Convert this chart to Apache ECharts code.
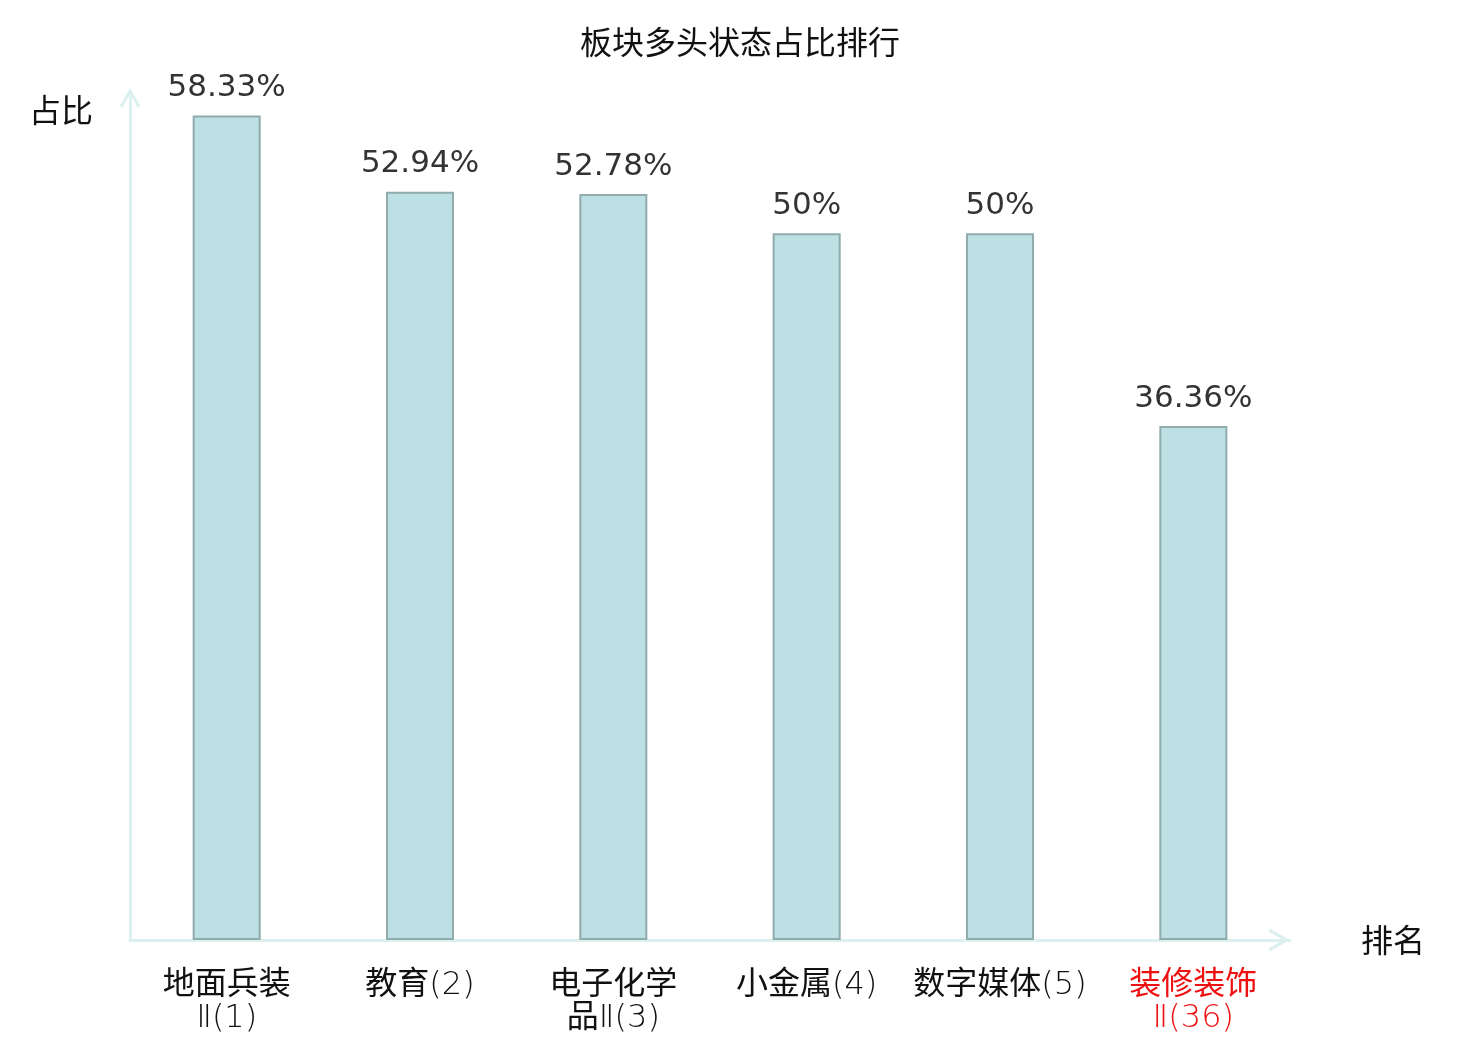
<!DOCTYPE html>
<html>
<head>
<meta charset="utf-8">
<title>板块多头状态占比排行</title>
<script src="https://cdn.jsdelivr.net/npm/echarts@6/dist/echarts.min.js"></script>
<style>
    html, body {margin: 0; padding: 0; background: #fff;}
    #chart {width: 1480px; height: 1040px;}
</style>
</head>
<body>
<div id="chart"></div>
<script>
    var categories = ['地面兵装Ⅱ(1)', '教育(2)', '电子化学品Ⅱ(3)', '小金属(4)', '数字媒体(5)', '装修装饰Ⅱ(36)'];
    var ratios = [58.33, 52.94, 52.78, 50, 50, 36.36];
    var highlightIndex = 5;

    var axisColor = '#dcf1ef';
    var cjkFont = 'Noto Sans CJK SC';
    var labelFont = '"DejaVu Sans Light", "Noto Sans CJK SC"';
    var arrowPath = 'path://M10,0 L20,17 L17.4,18.5 L10,5.5 L2.6,18.5 L0,17 Z';

    var chart = echarts.init(document.getElementById('chart'));

    // long names wrap after the first four characters
    function wrapName(name) {
        if (name.length > 7) {
            return name.slice(0, 4) + '\n' + name.slice(4);
        }
        return name;
    }

    var option = {
        animation: false,
        title: {
            text: '板块多头状态占比排行',
            left: 'center',
            top: 21,
            textStyle: {
                color: '#111',
                fontSize: 32,
                fontWeight: 'normal',
                fontFamily: cjkFont
            }
        },
        grid: {
            left: 130,
            right: 190,
            top: 92,
            bottom: 100,
            containLabel: false
        },
        xAxis: {
            type: 'category',
            data: categories,
            name: '排名',
            nameLocation: 'end',
            nameGap: 71,
            nameTextStyle: {
                color: '#111',
                fontSize: 32,
                fontFamily: cjkFont
            },
            axisLine: {
                show: true,
                symbol: ['none', arrowPath],
                symbolSize: [23, 22],
                symbolOffset: [0, -11],
                lineStyle: {color: axisColor, width: 3}
            },
            axisTick: {show: false},
            splitLine: {show: false},
            axisLabel: {
                margin: 29,
                interval: 0,
                fontSize: 32,
                lineHeight: 33,
                color: '#111',
                fontFamily: labelFont,
                formatter: function (value, index) {
                    var text = wrapName(value);
                    return index === highlightIndex ? '{hl|' + text.replace('\n', '}\n{hl|') + '}' : text;
                },
                rich: {
                    hl: {
                        color: '#ee1111',
                        fontSize: 32,
                        lineHeight: 33,
                        fontFamily: labelFont
                    }
                }
            }
        },
        yAxis: {
            type: 'value',
            min: 0,
            max: 60,
            name: '占比',
            nameLocation: 'end',
            nameGap: -18,
            nameTextStyle: {
                color: '#111',
                fontSize: 32,
                fontFamily: cjkFont,
                align: 'right',
                verticalAlign: 'middle',
                padding: [0, 37, 0, 0]
            },
            axisLine: {
                show: true,
                symbol: ['none', arrowPath],
                symbolSize: [21, 20],
                symbolOffset: [0, -6],
                lineStyle: {color: axisColor, width: 3}
            },
            axisTick: {show: false},
            axisLabel: {show: false},
            splitLine: {show: false}
        },
        series: [{
            type: 'bar',
            data: ratios,
            barWidth: 68,
            itemStyle: {
                color: '#bce0e3',
                borderColor: '#8fabab',
                borderWidth: 2
            },
            label: {
                show: true,
                position: 'top',
                distance: 12,
                color: '#333',
                fontSize: 31,
                fontFamily: 'DejaVu Sans',
                formatter: function (p) {
                    return p.value + '%';
                }
            }
        }]
    };

    chart.setOption(option);
</script>
</body>
</html>
